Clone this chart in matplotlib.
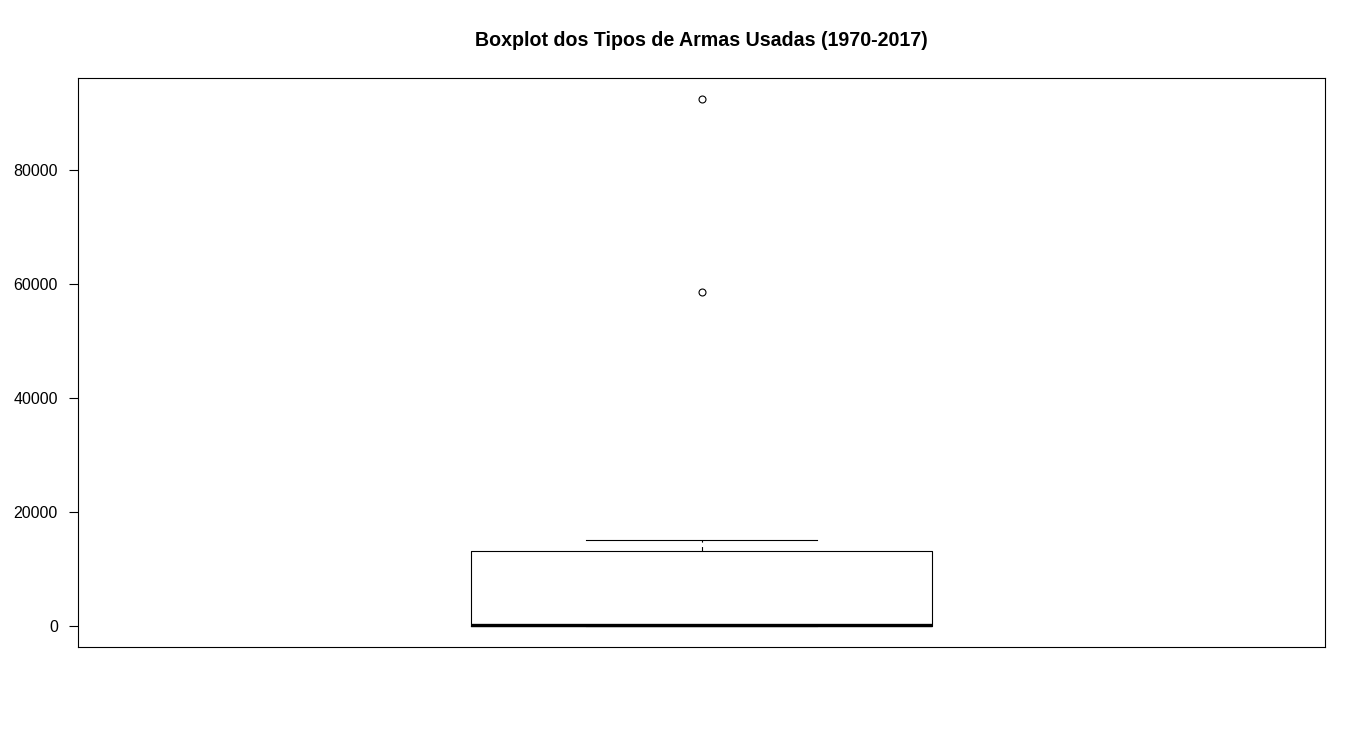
import numpy as np
import matplotlib
matplotlib.use('Agg')
import matplotlib.pyplot as plt

# number of attacks per weapon type, 1970-2017
weapon_types = ['Explosives', 'Firearms', 'Unknown', 'Incendiary', 'Melee', 'Chemical',
                'Sabotage Equipment', 'Vehicle', 'Other', 'Biological', 'Fake Weapons', 'Radiological']
attacks = [92426, 58524, 15157, 11135, 3655, 321, 141, 136, 114, 35, 33, 14]

title = 'Boxplot dos Tipos de Armas Usadas (1970-2017)'
yticks = [0, 20000, 40000, 60000, 80000]

plt.rcParams['font.family'] = ['Liberation Sans', 'DejaVu Sans']

# R style five number summary (Tukey hinges)
x = np.sort(np.array(attacks, dtype=float))
n = len(x)
n4 = np.floor((n + 3) / 2) / 2
d = np.array([1, n4, (n + 1) / 2, n + 1 - n4, n]) - 1
fn = 0.5 * (x[np.floor(d).astype(int)] + x[np.ceil(d).astype(int)])
iqr = fn[3] - fn[1]
lo_fence = fn[1] - 1.5 * iqr
hi_fence = fn[3] + 1.5 * iqr
inside = x[(x >= lo_fence) & (x <= hi_fence)]
stats = [{
    'med': fn[2], 'q1': fn[1], 'q3': fn[3],
    'whislo': inside.min(), 'whishi': inside.max(),
    'fliers': x[(x < lo_fence) | (x > hi_fence)],
}]

fig = plt.figure(figsize=(13.66, 7.45), dpi=100)
ax = fig.add_axes([78 / 1366, 98 / 745, 1247 / 1366, 569 / 745])

ax.bxp(stats, positions=[1], widths=0.4, showcaps=True,
       boxprops=dict(color='black', linewidth=0.8),
       medianprops=dict(color='black', linewidth=2.4),
       whiskerprops=dict(color='black', linewidth=0.8, linestyle=(0, (4, 4))),
       capprops=dict(color='black', linewidth=0.8),
       flierprops=dict(marker='o', markerfacecolor='none', markeredgecolor='black',
                       markersize=5, markeredgewidth=0.8))

# R default axis extension of 4%
rng = x.max() - x.min()
ax.set_ylim(x.min() - 0.04 * rng, x.max() + 0.04 * rng)
ax.set_xlim(0.46, 1.54)

ax.set_xticks([])
ax.set_yticks(yticks)
ax.set_yticklabels([str(v) for v in yticks])
ax.tick_params(axis='y', length=6.5, width=0.8, pad=8, labelsize=11.5)
for s in ax.spines.values():
    s.set_linewidth(0.8)

fig.text(0.5 * (78 + 1325) / 1366 + 0.0, 1 - 41 / 745, title,
         ha='center', va='center', fontsize=14.1, fontweight='bold')

fig.savefig('out.png', dpi=100)
